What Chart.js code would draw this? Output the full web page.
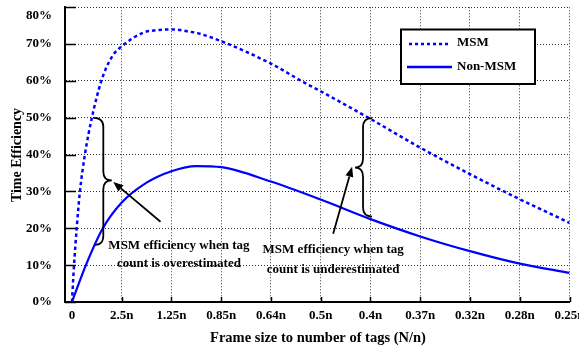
<!DOCTYPE html>
<html>
<head>
<meta charset="utf-8">
<script src="https://cdn.jsdelivr.net/npm/chart.js@4/dist/chart.umd.min.js"></script>
<style>
  html, body { margin: 0; padding: 0; background: #fff; }
  #wrap { width: 579px; height: 352px; position: relative; }
</style>
</head>
<body>
<div id="wrap"><canvas id="c" width="579" height="352"></canvas></div>
<script>
// ---- data (x = tick index position, y = efficiency %) ----
const xTickLabels = ['0', '2.5n', '1.25n', '0.85n', '0.64n', '0.5n', '0.4n', '0.37n', '0.32n', '0.28n', '0.25n'];
const msmX = [0, 0.04, 0.095, 0.16, 0.26, 0.40, 0.59, 0.8, 1.0, 1.43, 1.7, 2.0, 2.31, 2.57, 3, 4, 4.69, 5, 6, 7, 8, 9, 10];
const msmY = [0, 9.7, 20, 30, 40, 50, 60, 66.5, 69.4, 73.1, 73.8, 74, 73.5, 72.8, 70.8, 64.7, 59.4, 57.2, 49.7, 41.9, 34.7, 27.9, 21.5];
const nonX = [0, 0.28, 0.62, 1.0, 1.5, 2, 2.5, 3, 4, 5, 6, 7, 8, 9, 10];
const nonY = [0, 10, 20, 27, 32.4, 35.5, 36.9, 36.6, 32.7, 27.8, 22.5, 17.8, 13.8, 10.4, 7.9];
const seriesNames = ['MSM', 'Non-MSM'];
const yTicks = [0, 10, 20, 30, 40, 50, 60, 70, 80];

// annotation anchors in data units
const leftBrace = { top: [0.43, 50], spineX: 0.63, cusp: [0.80, 33.0], bottom: [0.46, 15.5] };
const rightBrace = { top: [6.03, 49.9], spineX: 5.85, cusp: [5.69, 36.5], bottom: [6.03, 23.2] };
const leftArrow = { from: [1.78, 21.8], to: [0.83, 32.6] };
const rightArrow = { from: [5.25, 18.5], to: [5.63, 36.7] };
const leftNote = { at: [2.15, 15.2], gap: 17.5, lines: ['MSM efficiency when tag', 'count is overestimated'] };
const rightNote = { at: [5.25, 14.2], gap: 19.5, lines: ['MSM efficiency when tag', 'count is underestimated'] };

const FONT = '"Liberation Serif", "Times New Roman", serif';
const BLUE = '#0000ff';

function pts(xs, ys) { return xs.map((x, i) => ({ x: x, y: ys[i] })); }

const extras = {
  id: 'extras',
  afterDraw(chart) {
    const ctx = chart.ctx, xs = chart.scales.x, ys = chart.scales.y, a = chart.chartArea;
    const P = (p) => [xs.getPixelForValue(p[0]), ys.getPixelForValue(p[1])];
    ctx.save();
    // inner tick marks
    ctx.strokeStyle = '#000'; ctx.lineWidth = 1.5;
    yTicks.forEach(v => {
      const y = Math.round(ys.getPixelForValue(v)) + 0.5;
      ctx.beginPath(); ctx.moveTo(a.left, y); ctx.lineTo(a.left + 11, y); ctx.stroke();
    });
    for (let i = 1; i < xTickLabels.length; i++) {
      const x = Math.round(xs.getPixelForValue(i)) + 0.5;
      ctx.beginPath(); ctx.moveTo(x, a.bottom); ctx.lineTo(x, a.bottom - 5); ctx.stroke();
    }
    // top y label, drawn slightly lower so it stays inside the canvas
    const topV = yTicks[yTicks.length - 1];
    ctx.fillStyle = '#000'; ctx.font = 'bold 13px ' + FONT;
    ctx.textAlign = 'right'; ctx.textBaseline = 'middle';
    ctx.fillText(topV + '%', a.left - 13, ys.getPixelForValue(topV) + 8);
    // braces
    function brace(b) {
      const t = P(b.top), c = P(b.cusp), bt = P(b.bottom);
      const sx = xs.getPixelForValue(b.spineX);
      const r = 9;
      ctx.beginPath();
      ctx.moveTo(t[0], t[1]);
      ctx.quadraticCurveTo(sx, t[1], sx, t[1] + r);
      ctx.lineTo(sx, c[1] - r);
      ctx.quadraticCurveTo(sx, c[1], c[0], c[1]);
      ctx.quadraticCurveTo(sx, c[1], sx, c[1] + r);
      ctx.lineTo(sx, bt[1] - r);
      ctx.quadraticCurveTo(sx, bt[1], bt[0], bt[1]);
      ctx.strokeStyle = '#000'; ctx.lineWidth = 1.8; ctx.stroke();
    }
    brace(leftBrace); brace(rightBrace);
    // arrows
    function arrow(ar) {
      const f = P(ar.from), t = P(ar.to);
      const ang = Math.atan2(t[1] - f[1], t[0] - f[0]);
      const hl = 10, hw = 4;
      const bx = t[0] - hl * Math.cos(ang), by = t[1] - hl * Math.sin(ang);
      ctx.beginPath(); ctx.moveTo(f[0], f[1]); ctx.lineTo(bx, by);
      ctx.strokeStyle = '#000'; ctx.lineWidth = 1.8; ctx.stroke();
      ctx.beginPath();
      ctx.moveTo(t[0], t[1]);
      ctx.lineTo(bx + hw * Math.sin(ang), by - hw * Math.cos(ang));
      ctx.lineTo(bx - hw * Math.sin(ang), by + hw * Math.cos(ang));
      ctx.closePath(); ctx.fillStyle = '#000'; ctx.fill();
    }
    arrow(leftArrow); arrow(rightArrow);
    // notes
    ctx.fillStyle = '#000'; ctx.font = 'bold 13px ' + FONT;
    ctx.textAlign = 'center'; ctx.textBaseline = 'middle';
    [leftNote, rightNote].forEach(n => {
      const p = P(n.at);
      ctx.fillText(n.lines[0], p[0], p[1]);
      ctx.fillText(n.lines[1], p[0], p[1] + n.gap);
    });
    // legend
    ctx.fillStyle = '#fff'; ctx.fillRect(401, 29.5, 134, 54.5);
    ctx.strokeStyle = '#000'; ctx.lineWidth = 2; ctx.strokeRect(401, 29.5, 134, 54.5);
    ctx.strokeStyle = BLUE; ctx.lineWidth = 2.5;
    ctx.setLineDash([3, 3]);
    ctx.beginPath(); ctx.moveTo(409, 44); ctx.lineTo(449, 44); ctx.stroke();
    ctx.setLineDash([]);
    ctx.beginPath(); ctx.moveTo(407, 67); ctx.lineTo(452, 67); ctx.stroke();
    ctx.fillStyle = '#000'; ctx.font = 'bold 13px ' + FONT;
    ctx.textAlign = 'left'; ctx.textBaseline = 'middle';
    ctx.fillText(seriesNames[0], 457, 43);
    ctx.fillText(seriesNames[1], 457, 67);
    // axis titles
    ctx.textAlign = 'center';
    ctx.font = 'bold 14.5px ' + FONT;
    ctx.fillText('Frame size to number of tags (N/n)', 318, 338);
    ctx.save();
    ctx.translate(17, 155); ctx.rotate(-Math.PI / 2);
    ctx.font = 'bold 14px ' + FONT;
    ctx.fillText('Time Efficiency', 0, 0);
    ctx.restore();
    ctx.restore();
  }
};

new Chart(document.getElementById('c'), {
  type: 'scatter',
  data: {
    datasets: [
      { label: seriesNames[0], data: pts(msmX, msmY), showLine: true, borderColor: BLUE, borderWidth: 2.5,
        borderDash: [3.5, 3], pointRadius: 0, cubicInterpolationMode: 'monotone', fill: false },
      { label: seriesNames[1], data: pts(nonX, nonY), showLine: true, borderColor: BLUE, borderWidth: 2.2,
        pointRadius: 0, cubicInterpolationMode: 'monotone', fill: false }
    ]
  },
  options: {
    responsive: false, animation: false, devicePixelRatio: 1,
    layout: { padding: { top: 7.3, right: 9.5, left: 0, bottom: 0 } },
    plugins: { legend: { display: false }, tooltip: { enabled: false } },
    scales: {
      x: {
        type: 'linear', min: -0.14, max: 10,
        afterBuildTicks: (s) => { s.ticks = xTickLabels.map((_, i) => ({ value: i })); },
        afterFit: (s) => { s.height = 50; s.paddingLeft = 0; s.paddingRight = 0; },
        grid: {
          drawTicks: false,
          color: (c) => (c.tick && c.tick.value === 0) ? 'rgba(0,0,0,0)' : '#333',
          lineWidth: 1
        },
        border: { display: true, color: '#000', width: 2, dash: [1, 2] },
        ticks: {
          padding: 6, color: '#000', maxRotation: 0, autoSkip: false,
          font: { family: FONT, size: 13, weight: 'bold' },
          callback: (v) => xTickLabels[Math.round(v)]
        }
      },
      y: {
        min: 0, max: 80,
        afterBuildTicks: (s) => { s.ticks = yTicks.map(v => ({ value: v })); },
        afterFit: (s) => { s.width = 65; s.paddingTop = 0; s.paddingBottom = 0; },
        grid: { drawTicks: false, color: '#333', lineWidth: 1 },
        border: { display: true, color: '#000', width: 2, dash: [1, 2] },
        ticks: {
          padding: 13, font: { family: FONT, size: 13, weight: 'bold' },
          color: (c) => (c.tick && c.tick.value === yTicks[yTicks.length - 1]) ? 'rgba(0,0,0,0)' : '#000',
          callback: (v) => v + '%'
        }
      }
    }
  },
  plugins: [extras]
});
</script>
</body>
</html>
